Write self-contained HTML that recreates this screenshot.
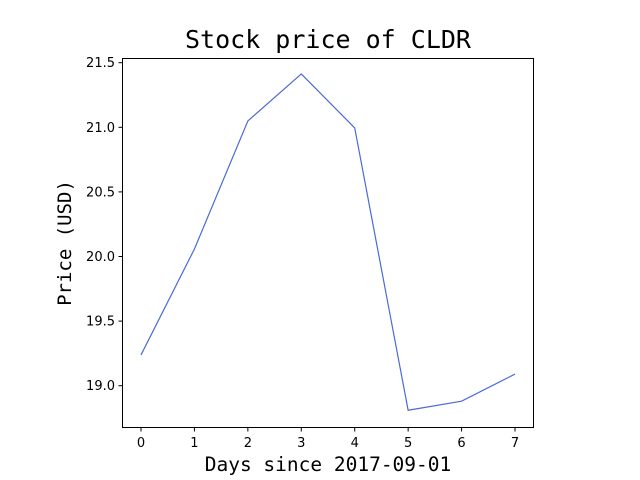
<!DOCTYPE html>
<html><head><meta charset="utf-8"><style>
body{margin:0;background:#fff;}
svg{display:block;}
text{font-family:"DejaVu Sans","Liberation Sans",sans-serif;fill:#000;}
.mono{font-family:"DejaVu Sans Mono","Liberation Mono",monospace;}
</style></head><body>
<svg id="chart" width="640" height="480">
<rect width="640" height="480" fill="#fff"/>
<text class="mono" x="328" y="48" font-size="25" text-anchor="middle">Stock price of CLDR</text>
<text class="mono" x="328" y="471" font-size="19.5" text-anchor="middle">Days since 2017-09-01</text>
<text class="mono" x="0" y="0" font-size="19" text-anchor="middle" transform="translate(71,243) rotate(-90)">Price (USD)</text>
<g id="marks"></g>
<rect x="122.5" y="58.5" width="411" height="369" fill="none" stroke="#000" stroke-width="1"/>
</svg>
<script>
const days = [0, 1, 2, 3, 4, 5, 6, 7];
const prices = [19.238, 20.058, 21.049, 21.413, 20.995, 18.81, 18.88, 19.09];
const xTicks = [0, 1, 2, 3, 4, 5, 6, 7];
const yTicks = [19.0, 19.5, 20.0, 20.5, 21.0, 21.5];
const yTickLabels = ["19.0", "19.5", "20.0", "20.5", "21.0", "21.5"];

const NS = "http://www.w3.org/2000/svg";
const g = document.getElementById('marks');
function xs(v){ return 141 + (v - 0) * (515 - 141) / 7; }
function ys(v){ return 385.7 - (v - 19.0) * 129.2; }
function mk(tag, attrs){ const e = document.createElementNS(NS, tag); for (const k in attrs) e.setAttribute(k, attrs[k]); g.appendChild(e); return e; }

xTicks.forEach(t => {
  const l = mk('line', {x1: xs(t), x2: xs(t), y1: 427.5, y2: 431.5, stroke: '#000'});
  
  
  const tx = mk('text', {x: xs(t), y: 447, 'font-size': 13, 'text-anchor': 'middle'});
  tx.textContent = String(t);
  
  
});
yTicks.forEach((t, i) => {
  const l = mk('line', {x1: 118.5, x2: 122.5, y1: ys(t), y2: ys(t), stroke: '#000'});
  
  
  const tx = mk('text', {x: 115, y: ys(t) + 4.5, 'font-size': 13, 'text-anchor': 'end'});
  tx.textContent = yTickLabels[i];
  
  
});
const pts = days.map((d, i) => xs(d) + ',' + ys(prices[i])).join(' ');
const line = mk('polyline', {points: pts, fill: 'none', stroke: '#4a6bd6', 'stroke-width': 1.2});


</script>
</body></html>
